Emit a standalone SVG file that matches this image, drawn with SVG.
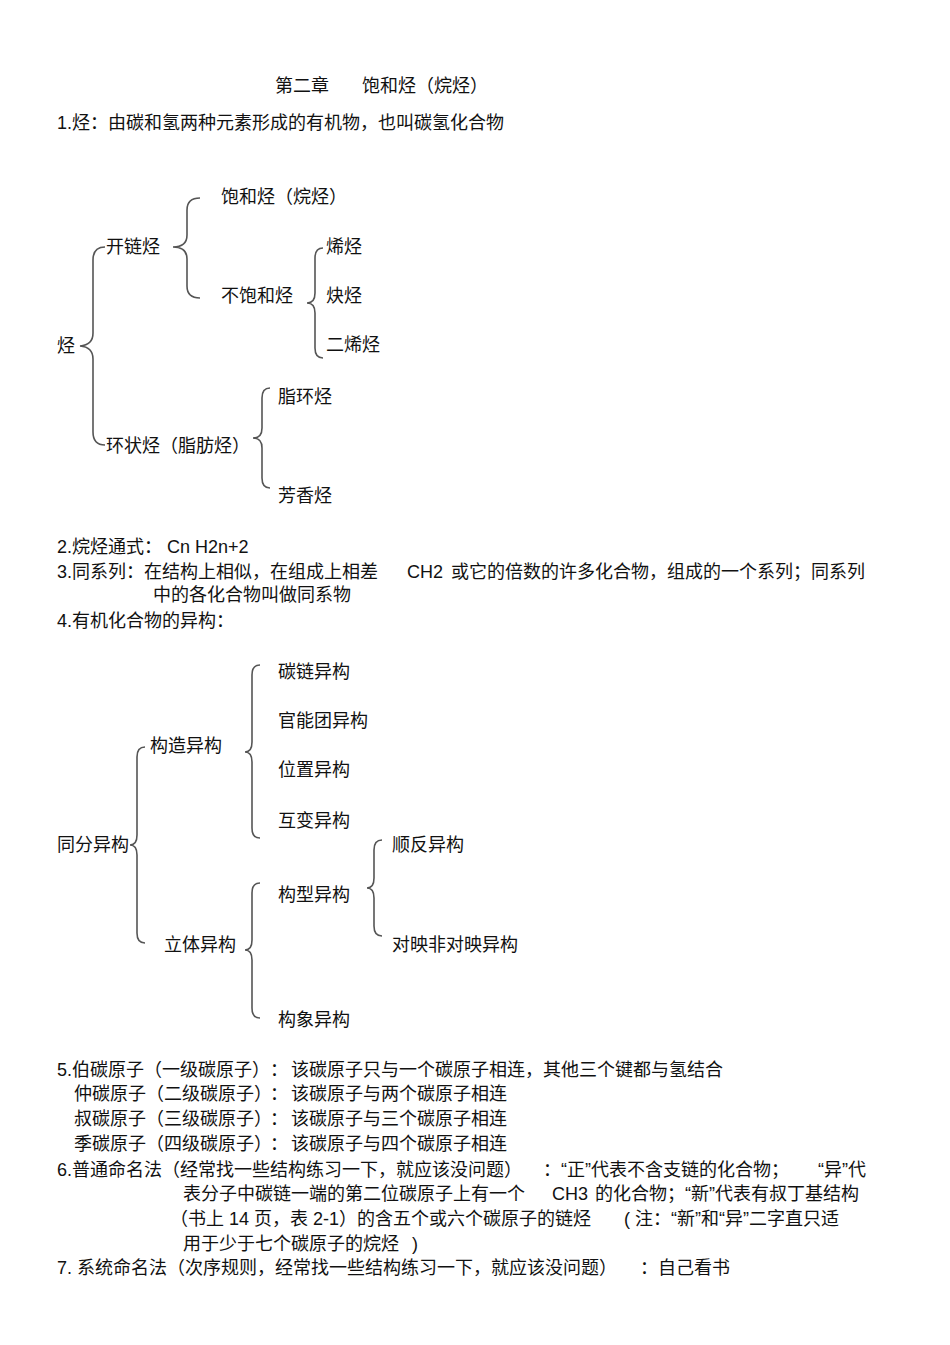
<svg xmlns="http://www.w3.org/2000/svg" width="950" height="1345" viewBox="0 0 950 1345">
<style>
text{font-family:"Liberation Sans","Noto Sans CJK SC",sans-serif;font-size:18px;fill:#111;white-space:pre}
.b{fill:none;stroke:#555;stroke-width:1.6}
</style>
<rect width="950" height="1345" fill="#fff"/>
<text x="275" y="92" font-size="19">第二章</text><text x="362" y="92" font-size="19">饱和烃（烷烃）</text>
<text x="57" y="129">1.烃：由碳和氢两种元素形成的有机物，也叫碳氢化合物</text>
<g id="connectors">
<path class="b" d="M105,247 Q93,247 93,260 L93,333 Q93,345 80,346 Q93,347 93,359 L93,432 Q93,445 105,445"/>
<path class="b" d="M200,198 Q187,198 187,210 L187,235 Q187,247 173,247 Q187,247 187,259 L187,286 Q187,298 200,298"/>
<path class="b" d="M323,248 Q315,248 315,258 L315,293 Q315,303 307,303 Q315,303 315,313 L315,348 Q315,358 323,358"/>
<path class="b" d="M270,388 Q262,388 262,398 L262,428 Q262,438 253,438 Q262,438 262,448 L262,478 Q262,488 270,488"/>
<path class="b" d="M145,747 Q137,747 137,757 L137,835 Q137,845 130,845 Q137,845 137,855 L137,933 Q137,943 145,943"/>
<path class="b" d="M260,665 Q252,665 252,675 L252,742 Q252,752 245,752 Q252,752 252,762 L252,828 Q252,838 260,838"/>
<path class="b" d="M260,883 Q252,883 252,893 L252,940 Q252,950 245,950 Q252,950 252,960 L252,1008 Q252,1018 260,1018"/>
<path class="b" d="M382,840 Q374,840 374,850 L374,878 Q374,888 367,888 Q374,888 374,898 L374,926 Q374,936 382,936"/>
</g>
<g id="n1"><text x="57" y="352">烃</text></g>
<g id="n2"><text x="106" y="253">开链烃</text></g>
<g id="n3"><text x="106" y="452">环状烃（脂肪烃）</text></g>
<g id="n4"><text x="221" y="203">饱和烃（烷烃）</text></g>
<g id="n5"><text x="221" y="302">不饱和烃</text></g>
<g id="n6"><text x="326" y="253">烯烃</text></g>
<g id="n7"><text x="326" y="302">炔烃</text></g>
<g id="n8"><text x="326" y="351">二烯烃</text></g>
<g id="n9"><text x="278" y="403">脂环烃</text></g>
<g id="n10"><text x="278" y="502">芳香烃</text></g>
<text x="57" y="553">2.烷烃通式：</text><text x="167" y="553">Cn H2n+2</text>
<text x="57" y="578">3.同系列：在结构上相似，在组成上相差</text><text x="407" y="578">CH2</text><text x="451" y="578">或它的倍数的许多化合物，组成的一个系列；同系列</text>
<text x="153" y="601">中的各化合物叫做同系物</text>
<text x="57" y="627">4.有机化合物的异构：</text>
<g id="m1"><text x="57" y="851">同分异构</text></g>
<g id="m2"><text x="150" y="752">构造异构</text></g>
<g id="m3"><text x="164" y="951">立体异构</text></g>
<g id="m4"><text x="278" y="678">碳链异构</text></g>
<g id="m5"><text x="278" y="727">官能团异构</text></g>
<g id="m6"><text x="278" y="776">位置异构</text></g>
<g id="m7"><text x="278" y="827">互变异构</text></g>
<g id="m8"><text x="278" y="901">构型异构</text></g>
<g id="m9"><text x="278" y="1026">构象异构</text></g>
<g id="m10"><text x="392" y="851">顺反异构</text></g>
<g id="m11"><text x="392" y="951">对映非对映异构</text></g>
<text x="57" y="1076">5.伯碳原子（一级碳原子）</text><text x="270" y="1076">：</text><text x="291" y="1076">该碳原子只与一个碳原子相连，其他三个键都与氢结合</text>
<text x="74" y="1100">仲碳原子（二级碳原子）</text><text x="270" y="1100">：</text><text x="291" y="1100">该碳原子与两个碳原子相连</text>
<text x="74" y="1125">叔碳原子（三级碳原子）</text><text x="270" y="1125">：</text><text x="291" y="1125">该碳原子与三个碳原子相连</text>
<text x="74" y="1150">季碳原子（四级碳原子）</text><text x="270" y="1150">：</text><text x="291" y="1150">该碳原子与四个碳原子相连</text>
<text x="57" y="1176">6.普通命名法（经常找一些结构练习一下，就应该没问题）</text><text x="543" y="1176">：“正”代表不含支链的化合物；</text><text x="818" y="1176">“异”代</text>
<text x="183" y="1200">表分子中碳链一端的第二位碳原子上有一个</text><text x="552" y="1200">CH3</text><text x="595" y="1200">的化合物；“新”代表有叔丁基结构</text>
<text x="170" y="1225">（书上 14 页，表 2-1）的含五个或六个碳原子的链烃</text><text x="624" y="1225">( 注：“新”和“异”二字直只适</text>
<text x="183" y="1250">用于少于七个碳原子的烷烃</text><text x="412" y="1250">)</text>
<text x="57" y="1274">7. 系统命名法（次序规则，经常找一些结构练习一下，就应该没问题）</text><text x="640" y="1274">：自己看书</text>
</svg>
